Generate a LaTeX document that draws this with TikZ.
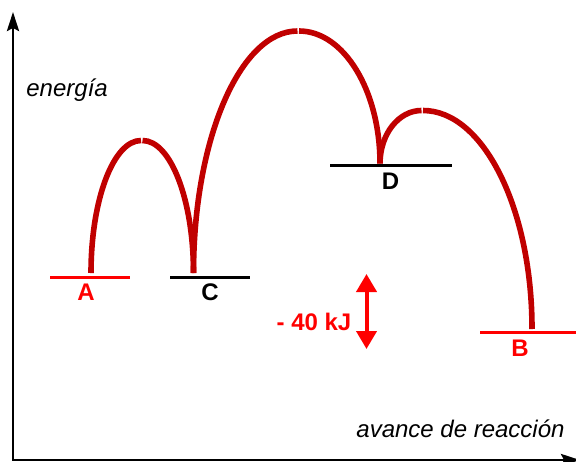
\documentclass[tikz,border=0pt]{standalone}
\usepackage{fontspec}
\setmainfont{Liberation Sans}
\usetikzlibrary{arrows.meta}
\definecolor{curvered}{RGB}{192,0,0}
\tikzset{
  axis/.style={line width=1.4pt, {Stealth[length=9.5pt,width=6pt,inset=1.5pt]}-{Stealth[length=9.5pt,width=6pt,inset=1.5pt]}},
  level/.style={line width=1.5pt},
  hump/.style={draw=curvered, line width=2.8pt},
  lbl/.style={font=\fontsize{12}{14}\selectfont\bfseries, inner sep=0pt}
}
\begin{document}
\begin{tikzpicture}[x=0.5pt, y=0.5pt]
	\useasboundingbox (0,0) rectangle (576,461);
	\coordinate (O) at (13,1);
	\coordinate (ytop) at (13,449);
	\coordinate (xend) at (580,1);
    \draw[axis] (ytop) -- (O) -- (xend);
    \node[anchor=base west, inner sep=0pt, font=\fontsize{12}{14}\selectfont\itshape] (ylab) at (26,364) {energía};
    \node[anchor=base west, inner sep=0pt, font=\fontsize{12}{14}\selectfont\itshape] (xlab) at (356,24) {avance de reacción};

    % energy levels
    \draw[level, red] (50,184) -- (130,184);
    \draw[level] (170,184) -- (250,184);
    \draw[level] (330,295.5) -- (452,295.5);
    \draw[level, red] (480,129) -- (576,129);
    \node[lbl, red] (labA) at (86,169) {A};
    \node[lbl] (labC) at (210,169) {C};
    \node[lbl] (labD) at (390.5,280) {D};
    \node[lbl, red] (labB) at (520,113) {B};

    % each hump is drawn in two halves, split at the top
    \draw[hump] (91,188) arc[start angle=180, end angle=90, x radius=50, y radius=132.5];
    \draw[hump] (142.5,320.5) arc[start angle=90, end angle=0, x radius=51, y radius=132.5];
    \draw[hump] (193.5,188) arc[start angle=180, end angle=90, x radius=104, y radius=242];
    \draw[hump] (299,430) arc[start angle=90, end angle=0, x radius=81, y radius=132.5];
    \draw[hump] (380,297.5) arc[start angle=180, end angle=90, x radius=41.5, y radius=53];
    \draw[hump] (423,350.5) arc[start angle=90, end angle=0, x radius=109, y radius=218.5];

    % energy difference
    \coordinate (dtop) at (366.5,187);
    \coordinate (dbot) at (366.5,112);
    \draw[red, line width=2pt, {Triangle[length=9pt,width=10pt]}-{Triangle[length=9pt,width=10pt]}] (dtop) -- (dbot);
    \node[lbl, red] (dE) at (314,139) {- 40 kJ};
\end{tikzpicture}
\end{document}
